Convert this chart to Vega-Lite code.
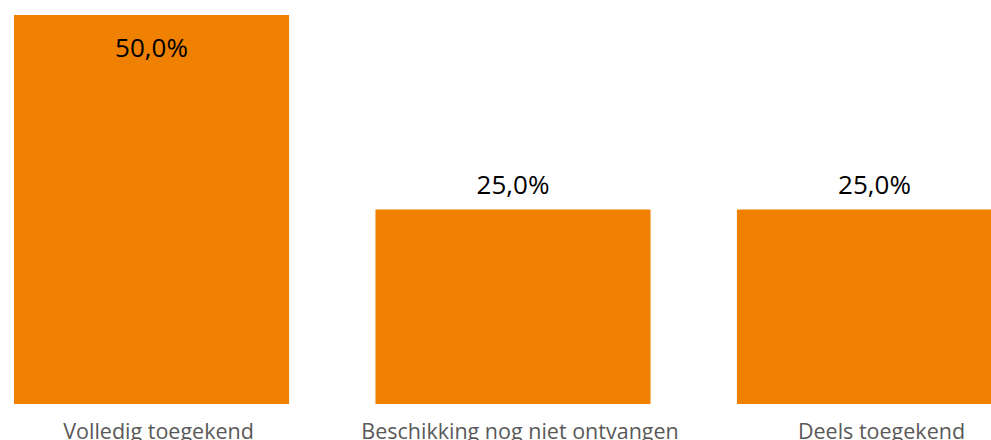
{
  "$schema": "https://vega.github.io/schema/vega-lite/v6.json",
  "autosize": {"type": "none"},
  "padding": {"left": 0, "top": 15, "right": 0, "bottom": 36},
  "width": 1026,
  "height": 389,
  "background": "white",
  "config": {
    "view": {"stroke": null},
    "locale": {"number": {"decimal": ",", "thousands": ".", "grouping": [3], "currency": ["€", ""]}},
    "font": "Open Sans"
  },
  "data": {
    "values": [
      {"categorie": "Volledig toegekend", "aandeel": 0.5},
      {"categorie": "Beschikking nog niet ontvangen", "aandeel": 0.25},
      {"categorie": "Deels toegekend", "aandeel": 0.25}
    ]
  },
  "encoding": {
    "x": {
      "field": "categorie",
      "type": "nominal",
      "sort": null,
      "scale": {"paddingInner": 0.239, "paddingOuter": 0.0387},
      "axis": {
        "title": null,
        "domain": false,
        "ticks": false,
        "labelAngle": 0,
        "labelFont": "Open Sans",
        "labelFontSize": 21.5,
        "labelColor": "#595959",
        "labelPadding": 17,
        "labelOffset": 7,
        "labelLimit": 0
      }
    },
    "y": {
      "field": "aandeel",
      "type": "quantitative",
      "scale": {"domain": [0, 0.5], "nice": false, "zero": true},
      "axis": null
    }
  },
  "layer": [
    {"mark": {"type": "bar", "color": "#EF8000"}},
    {
      "transform": [{"filter": "datum.aandeel < 0.5"}],
      "mark": {"type": "text", "baseline": "alphabetic", "dy": -16, "fontSize": 26, "color": "#000000", "font": "Open Sans"},
      "encoding": {"text": {"field": "aandeel", "type": "quantitative", "format": ".1%"}}
    },
    {
      "transform": [{"filter": "datum.aandeel >= 0.5"}],
      "mark": {"type": "text", "baseline": "alphabetic", "dy": 42, "fontSize": 26, "color": "#000000", "font": "Open Sans"},
      "encoding": {"text": {"field": "aandeel", "type": "quantitative", "format": ".1%"}}
    }
  ]
}
